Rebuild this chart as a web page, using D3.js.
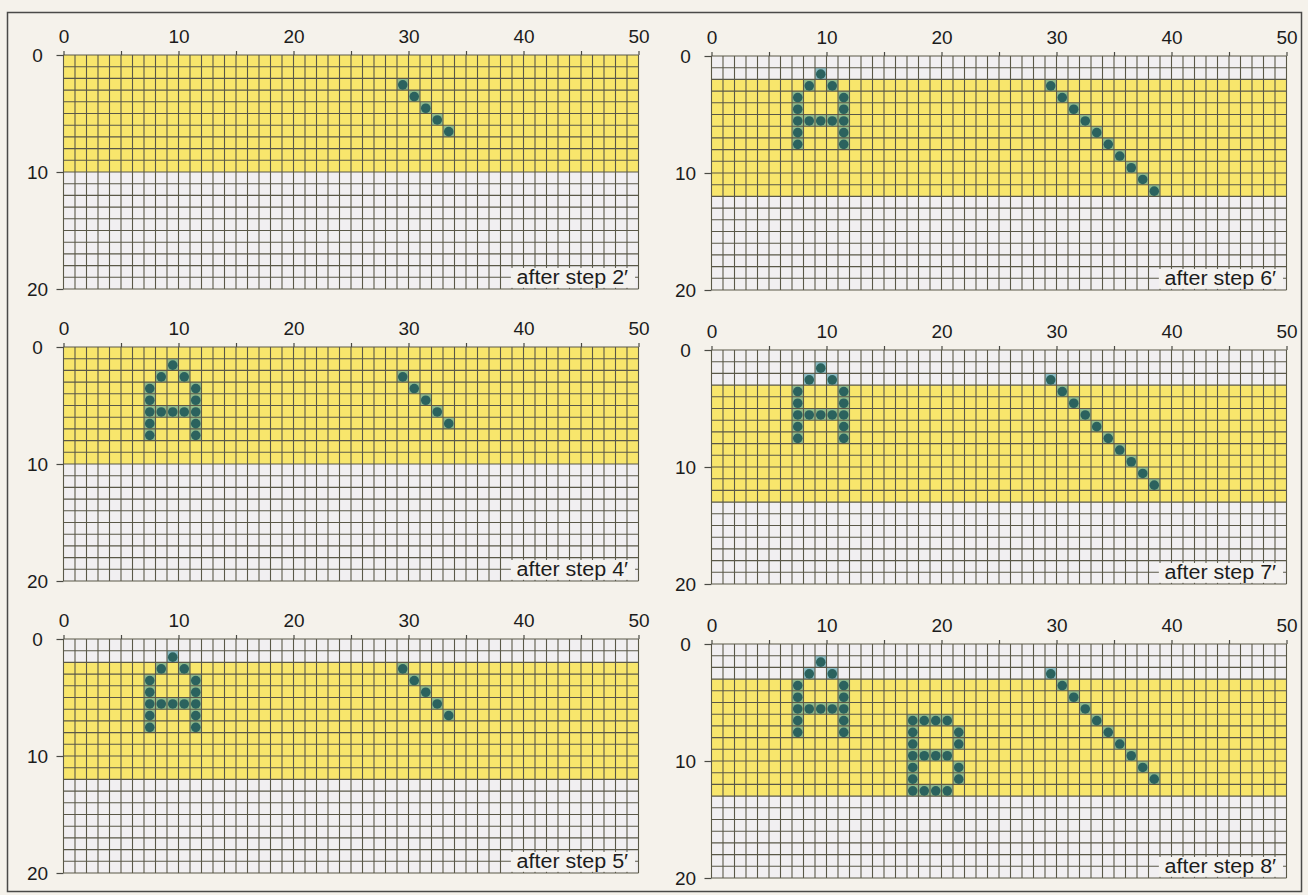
<!DOCTYPE html>
<html>
<head>
<meta charset="utf-8">
<script src="https://cdn.jsdelivr.net/npm/d3@7"></script>
<style>
    body { margin: 0; background: #f5f2eb; }
    svg { display: block; }
    text { font-family: "Liberation Sans", Arial, Helvetica, sans-serif; fill: #1c1c1c; }
</style>
</head>
<body>
<div id="chart"></div>
<script>
// one entry per panel, reading order: left column top to bottom, right column top to bottom
var stepLabels = ["after step 2\u2032", "after step 4\u2032", "after step 5\u2032",
                  "after step 6\u2032", "after step 7\u2032", "after step 8\u2032"];
var bandTop    = [0, 0, 2, 2, 3, 3];
var bandBottom = [10, 10, 12, 12, 13, 13];
var panelShapes = [
    ["shortLine"],
    ["A", "shortLine"],
    ["A", "shortLine"],
    ["A", "longLine"],
    ["A", "longLine"],
    ["A", "B", "longLine"]
];

// lit cells, [column, row]
var shortLine = [[29, 2], [30, 3], [31, 4], [32, 5], [33, 6]];
var longLine  = [[29, 2], [30, 3], [31, 4], [32, 5], [33, 6],
                 [34, 7], [35, 8], [36, 9], [37, 10], [38, 11]];
var letterA = [[9, 1], [8, 2], [10, 2],
               [7, 3], [7, 4], [7, 5], [7, 6], [7, 7],
               [11, 3], [11, 4], [11, 5], [11, 6], [11, 7],
               [8, 5], [9, 5], [10, 5]];
var letterB = [[17, 6], [17, 7], [17, 8], [17, 9], [17, 10], [17, 11], [17, 12],
               [18, 6], [19, 6], [20, 6],
               [18, 9], [19, 9], [20, 9],
               [18, 12], [19, 12], [20, 12],
               [21, 7], [21, 8], [21, 10], [21, 11]];
var xTicks = [0, 5, 10, 15, 20, 25, 30, 35, 40, 45, 50];
var yTicks = [0, 10, 20];

var shapes = { shortLine: shortLine, longLine: longLine, A: letterA, B: letterB };

var width = 1308;
var height = 895;
var panelW = 575;
var panelH = 234;
var colX = [63.5, 711.5];
var rowY = [[55, 347, 639], [56, 350, 644]];

var svg = d3.select("#chart").append("svg")
    .attr("width", width)
    .attr("height", height);

svg.append("rect")
    .attr("x", 7.5).attr("y", 12.5)
    .attr("width", 1294).attr("height", 879)
    .attr("fill", "none").attr("stroke", "#4a4a48").attr("stroke-width", 1.5);

function drawPanel(i) {
    var col = i < 3 ? 0 : 1;
    var x0 = colX[col];
    var y0 = rowY[col][i % 3];
    var x = d3.scaleLinear().domain([0, 50]).range([x0, x0 + panelW]);
    var y = d3.scaleLinear().domain([0, 20]).range([y0, y0 + panelH]);
    var g = svg.append("g");

    // pale background then yellow band
    g.append("rect")
        .attr("x", x(0)).attr("y", y(0))
        .attr("width", x(50) - x(0)).attr("height", y(20) - y(0))
        .attr("fill", "#f1eff1");
    g.append("rect")
        .attr("x", x(0)).attr("y", y(bandTop[i]))
        .attr("width", x(50) - x(0)).attr("height", y(bandBottom[i]) - y(bandTop[i]))
        .attr("fill", "#f8e66c");

    // lit cells
    var cells = [];
    panelShapes[i].forEach(function (name) { cells = cells.concat(shapes[name]); });
    g.selectAll(".cell").data(cells).enter().append("rect")
        .attr("class", "cell")
        .attr("x", d => x(d[0]))
        .attr("y", d => y(d[1]))
        .attr("width", x(1) - x(0))
        .attr("height", y(1) - y(0))
        .attr("fill", "#3f97a6").attr("opacity", 0.55);

    // grid
    g.selectAll(".vline").data(d3.range(0, 51)).enter().append("line")
        .attr("x1", d => x(d)).attr("x2", d => x(d))
        .attr("y1", y(0)).attr("y2", y(20))
        .attr("stroke", "#5a5848").attr("stroke-width", 1.1);
    g.selectAll(".hline").data(d3.range(0, 21)).enter().append("line")
        .attr("y1", d => y(d)).attr("y2", d => y(d))
        .attr("x1", x(0)).attr("x2", x(50))
        .attr("stroke", "#5a5848").attr("stroke-width", 1.1);

    g.selectAll(".dot").data(cells).enter().append("circle")
        .attr("cx", d => x(d[0] + 0.5))
        .attr("cy", d => y(d[1] + 0.55))
        .attr("r", 4.8)
        .attr("fill", "#2b625e");

    // axes
    var top = g.append("g")
        .attr("transform", "translate(0," + y(0) + ")")
        .call(d3.axisTop(x).tickValues(xTicks)
            .tickFormat(d => d % 10 === 0 ? d : "")
            .tickSize(4).tickPadding(8));
    var left = g.append("g")
        .attr("transform", "translate(" + x(0) + ",0)")
        .call(d3.axisLeft(y).tickValues(yTicks).tickSize(7).tickPadding(0));
    [top, left].forEach(function (a) {
        a.select(".domain").remove();
        a.selectAll("line").attr("stroke", "#4a4a44").attr("stroke-width", 1.2);
        a.selectAll("text").attr("font-size", "19px").attr("fill", "#1c1c1c");
    });
    left.selectAll("text").attr("text-anchor", "middle").attr("x", -26).attr("dy", "0.36em");

    // step label box
    g.append("rect")
        .attr("x", x(38.9)).attr("y", y(18.2))
        .attr("width", x(49.7) - x(38.9)).attr("height", y(19.9) - y(18.2))
        .attr("fill", "#f4f2ef");
    g.append("text")
        .attr("x", x(49.1)).attr("y", y(19.6))
        .attr("text-anchor", "end")
        .attr("font-size", "20px")
        .attr("textLength", x(49.1) - x(39.4))
        .attr("lengthAdjust", "spacingAndGlyphs")
        .text(stepLabels[i]);
}

for (var i = 0; i < stepLabels.length; i++) {
    drawPanel(i);
}
</script>
</body>
</html>
